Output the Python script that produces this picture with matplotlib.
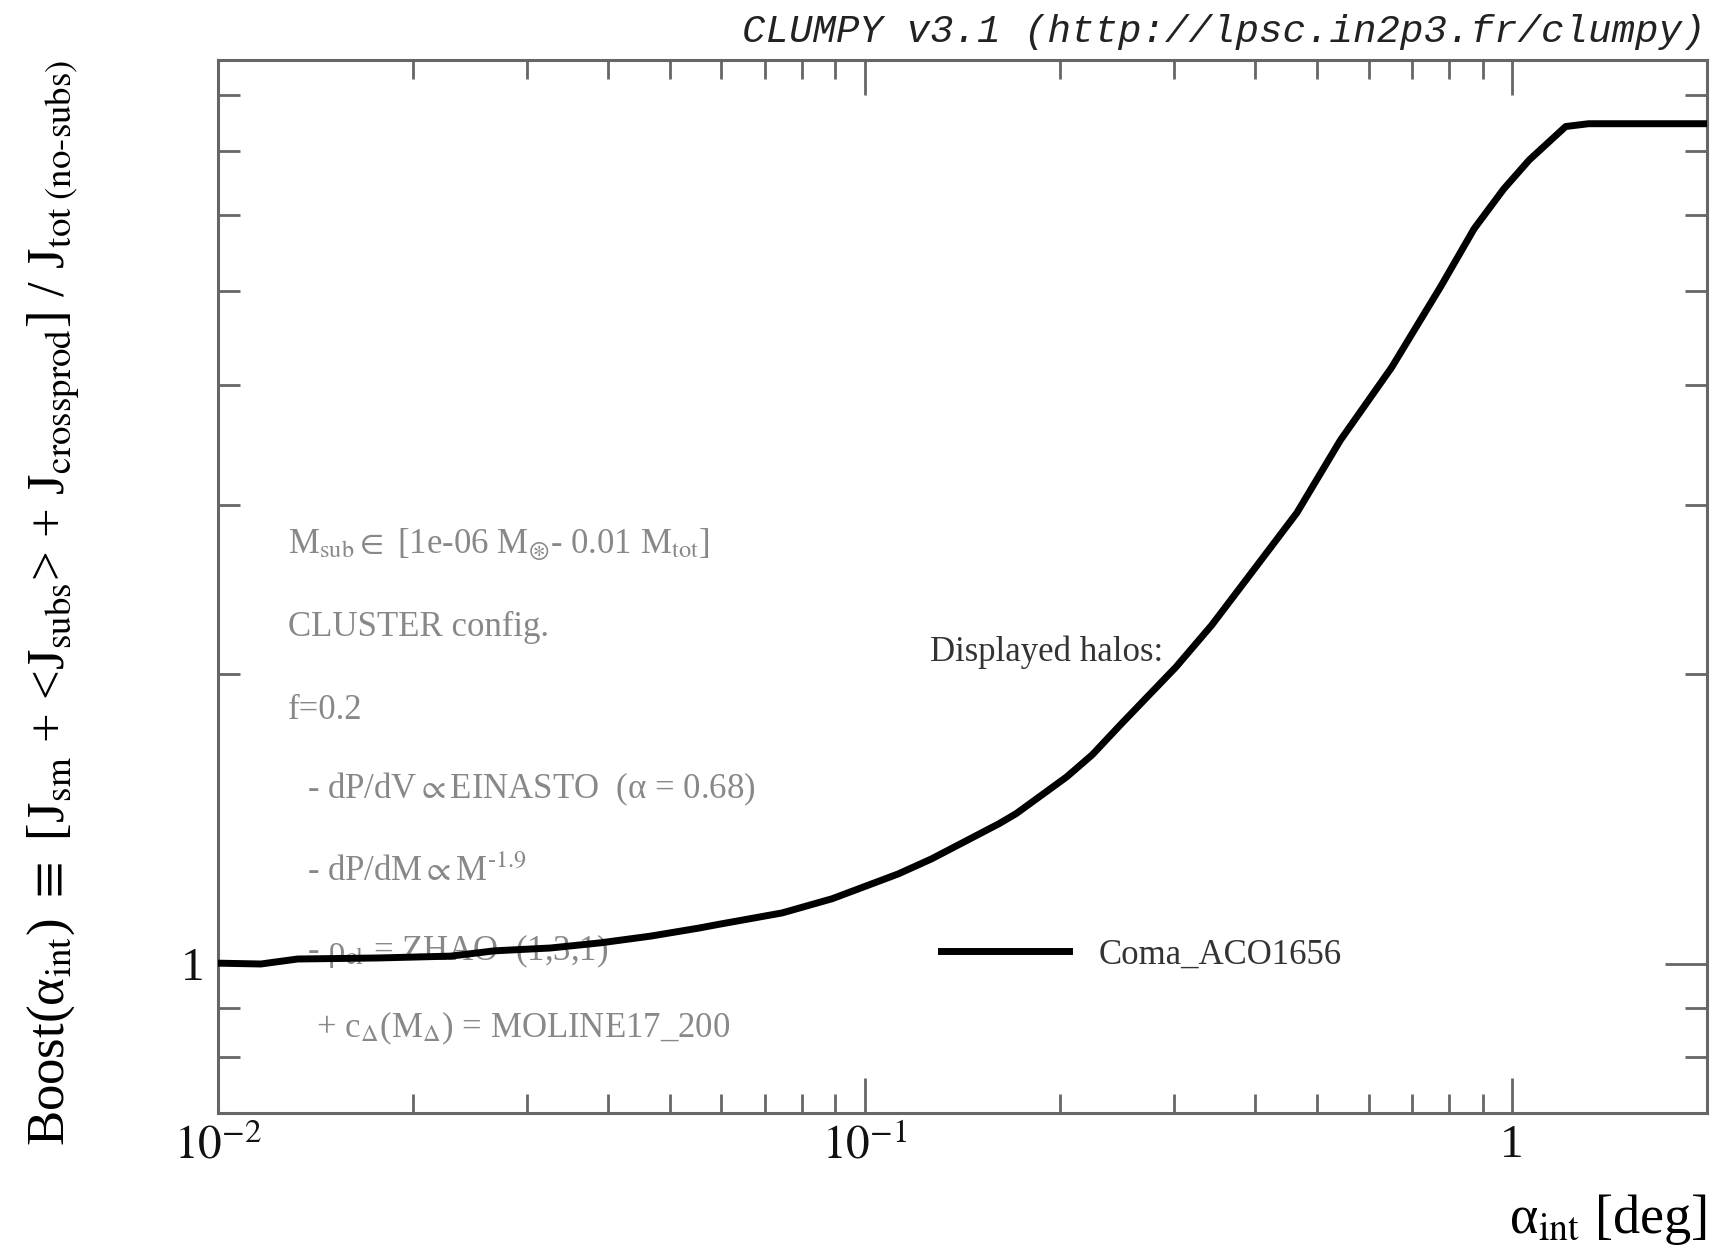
import matplotlib
matplotlib.use("Agg")
import matplotlib.pyplot as plt
from matplotlib.ticker import LogLocator, FixedLocator, NullFormatter

plt.rcParams["font.family"] = ["Liberation Serif", "DejaVu Serif"]
plt.rcParams["mathtext.fontset"] = "stix"

# Boost curve for Coma_ACO1656
alpha_int = [0.01, 0.01165, 0.01328, 0.01766, 0.02288, 0.02675, 0.03263, 0.03904,
             0.04664, 0.05547, 0.05917, 0.07446, 0.08895, 0.1127, 0.1267, 0.1611,
             0.1712, 0.2050, 0.2245, 0.2492, 0.3021, 0.3434, 0.3880, 0.4648,
             0.5430, 0.5814, 0.6515, 0.7758, 0.8736, 0.9706, 1.063, 1.21, 1.313, 2.0]
boost = [1.002, 1.0, 1.012, 1.0145, 1.019, 1.032, 1.039, 1.052,
         1.069, 1.090, 1.099, 1.130, 1.169, 1.241, 1.286, 1.399,
         1.433, 1.565, 1.65, 1.778, 2.034, 2.250, 2.507, 2.943,
         3.504, 3.74, 4.17, 5.06, 5.81, 6.39, 6.85, 7.42, 7.47, 7.47]
halo_name = "Coma_ACO1656"

info_lines = [
    r"M$_{\rm sub}$$\in$ [1e-06 M$_{\circledast}$- 0.01 M$_{\rm tot}$]",
    "CLUSTER config.",
    "f=0.2",
    r"- dP/dV$\propto$EINASTO  (α = 0.68)",
    r"- dP/dM$\propto$M$^{‐1.9}$",
    r"- ρ$_{\rm cl}$ = ZHAO  (1,3,1)",
    r"+ c$_{\Delta}$(M$_{\Delta}$) = MOLINE17_200",
]
info_x = [0.047, 0.047, 0.047, 0.060, 0.060, 0.060, 0.066]
info_y = [0.540, 0.4615, 0.382, 0.307, 0.229, 0.154, 0.080]

frame = "#666666"

fig = plt.figure(figsize=(17.16, 12.53), dpi=100)
ax = fig.add_axes([0.1270, 0.1117, 0.8677, 0.8404])

ax.plot(alpha_int, boost, color="black", lw=5, label=halo_name, zorder=4,
        solid_joinstyle="round")

ax.set_xscale("log")
ax.set_yscale("log")
ax.set_xlim(0.01, 2.0)
ax.set_ylim(0.7, 8.7)

ax.xaxis.set_major_locator(FixedLocator([0.01, 0.1, 1]))
ax.set_xticklabels([r"$10^{-2}$", r"$10^{-1}$", "1"])
ax.xaxis.set_minor_locator(LogLocator(base=10, subs=range(2, 10)))
ax.xaxis.set_minor_formatter(NullFormatter())
ax.yaxis.set_major_locator(FixedLocator([1]))
ax.set_yticklabels(["1"])
ax.yaxis.set_minor_locator(LogLocator(base=10, subs=range(2, 10)))
ax.yaxis.set_minor_formatter(NullFormatter())

for s in ax.spines.values():
    s.set_color(frame)
    s.set_linewidth(2.2)
ax.tick_params(which="both", direction="in", top=True, right=True,
               color=frame, width=2.0, labelsize=34, labelcolor="#111111")
ax.tick_params(axis="x", which="major", length=25, pad=8)
ax.tick_params(axis="x", which="minor", length=14)
ax.tick_params(axis="y", which="major", length=30, pad=10)
ax.tick_params(axis="y", which="minor", length=16)

ax.set_xlabel(r"α$_{\rm int}$ [deg]", fontsize=39, loc="right")
ax.xaxis.set_label_coords(1.0, -0.075)
ax.set_ylabel(r"Boost(α$_{\rm int}$) $\equiv$ [J$_{\rm sm}$ + <J$_{\rm subs}$> + "
              r"J$_{\rm crossprod}$] / J$_{\rm tot\ (no‐subs)}$",
              fontsize=38, loc="top")
ax.yaxis.set_label_coords(-0.092, 1.0)

for txt, x, y in zip(info_lines, info_x, info_y):
    ax.text(x, y, txt, transform=ax.transAxes, fontsize=25, color="#888888",
            va="center", ha="left", zorder=3)

ax.text(0.478, 0.438, "Displayed halos:", transform=ax.transAxes, fontsize=25,
        color="#333333", va="center", ha="left")
ax.legend(loc="center left", bbox_to_anchor=(0.4856, 0.150), frameon=False,
          fontsize=25, borderpad=0, borderaxespad=0, handlelength=3.7,
          handletextpad=0.84, labelcolor="#333333")

fig.text(0.4324, 0.9665, "CLUMPY v3.1 (http://lpsc.in2p3.fr/clumpy)",
         family="Liberation Mono", style="italic", fontsize=28.2, color="#222222",
         ha="left", va="baseline")

fig.savefig("out.png", dpi=100)
